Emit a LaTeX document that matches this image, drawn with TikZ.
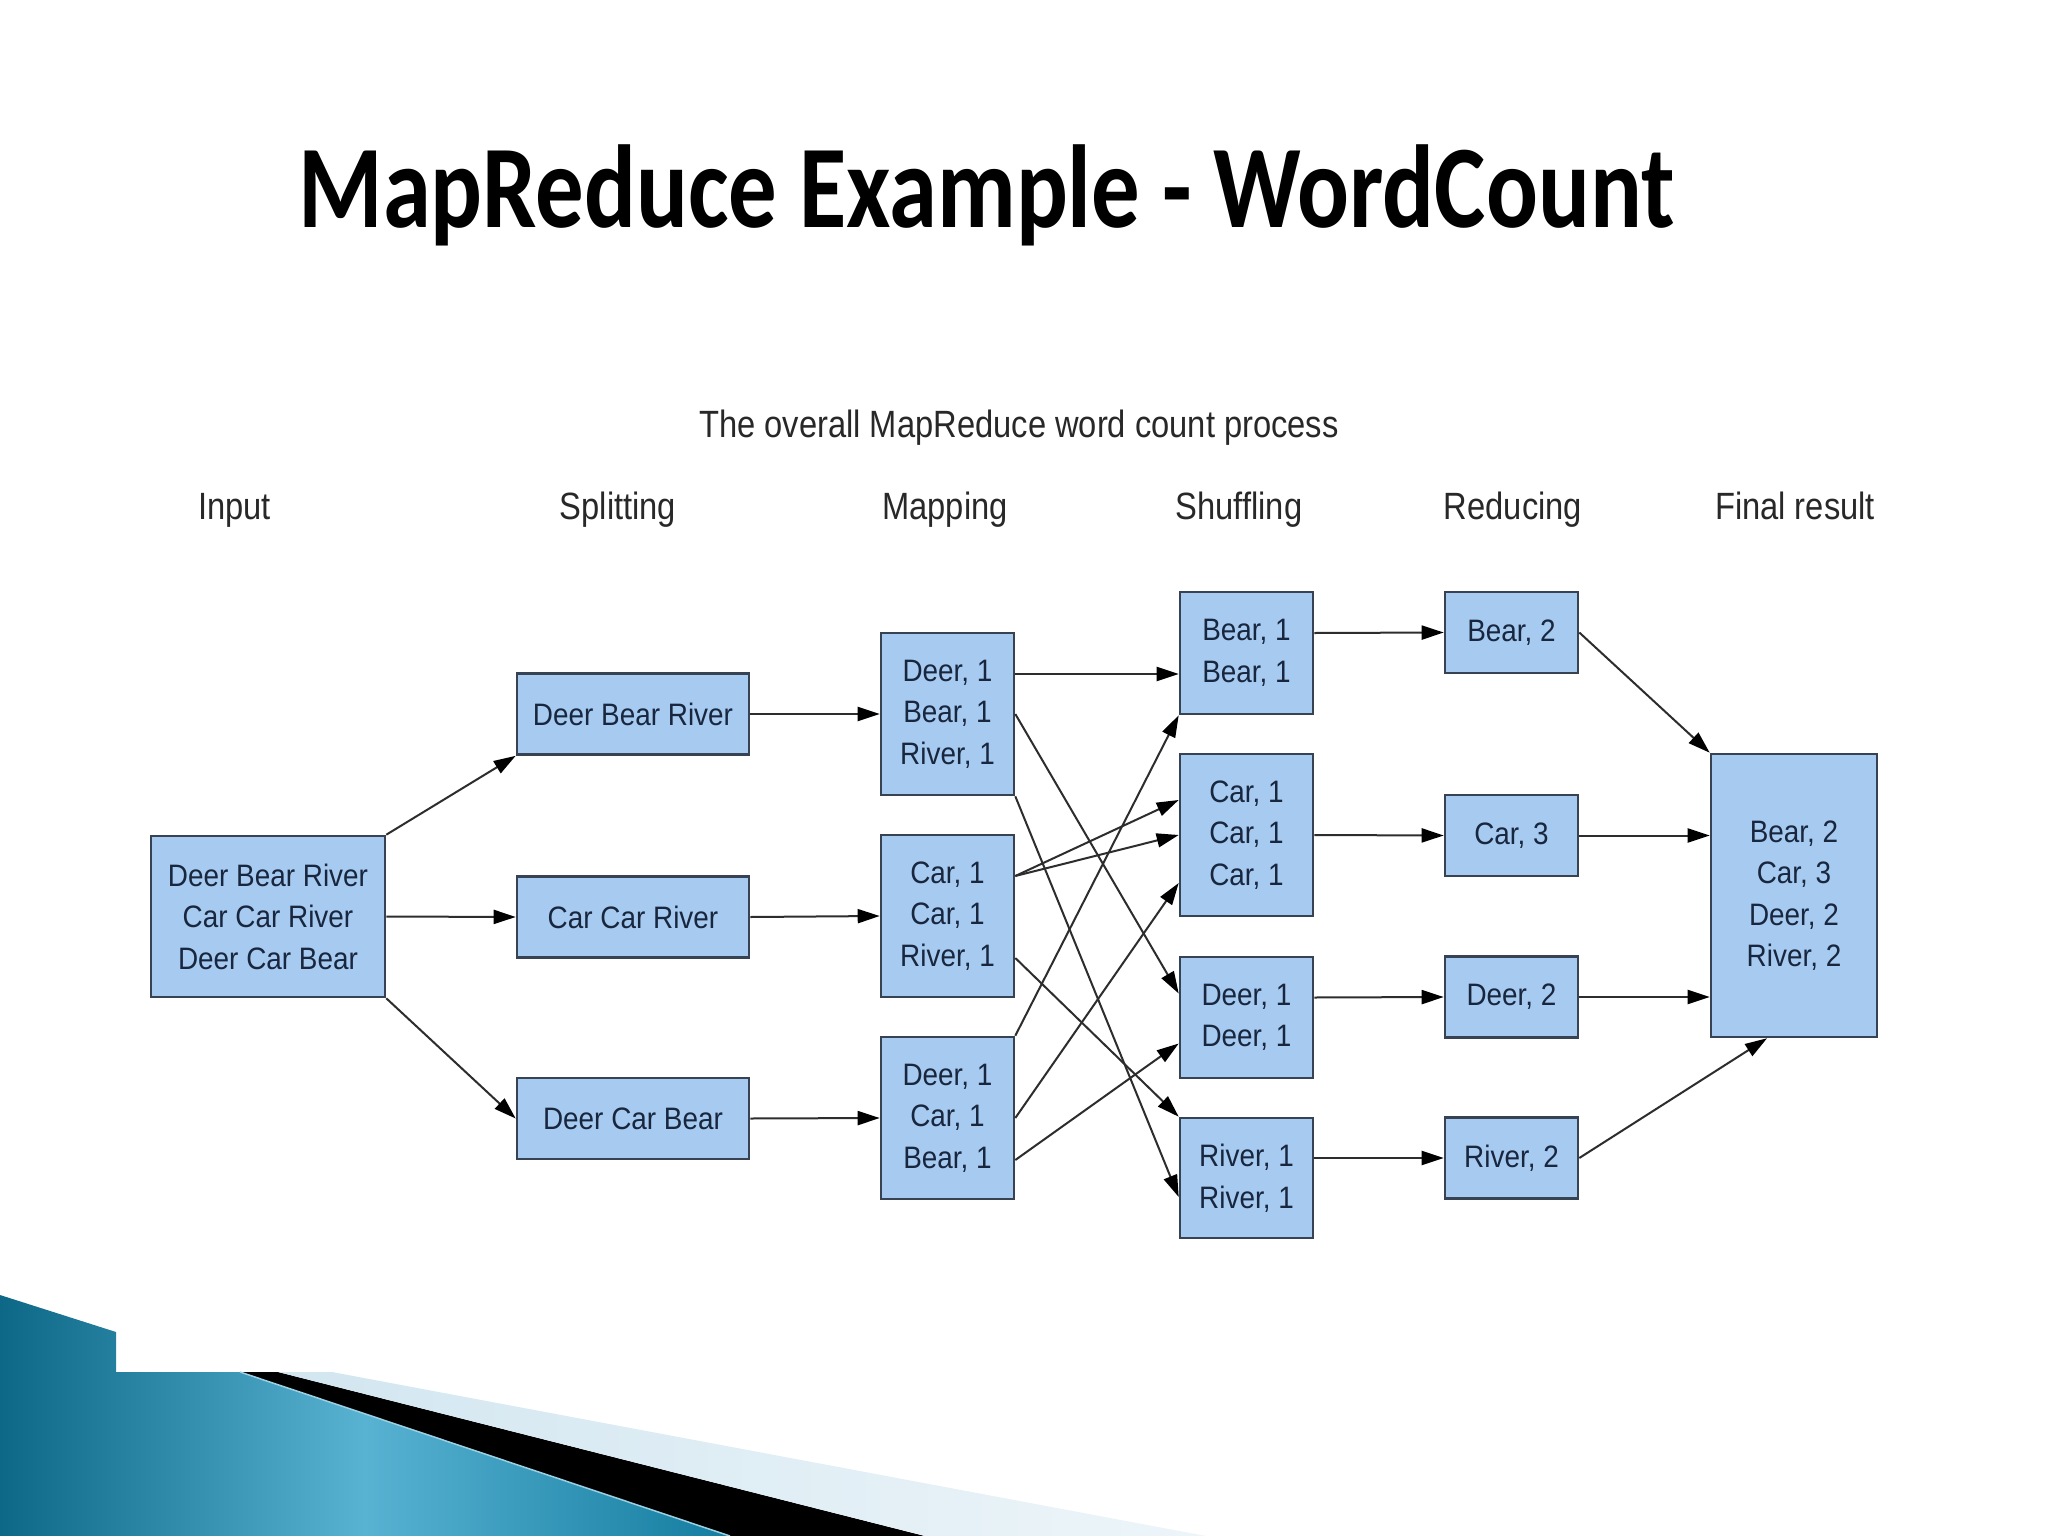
\documentclass[tikz,border=0pt]{standalone}
\usepackage{fontspec}
\usepackage{xcolor}
\usetikzlibrary{arrows.meta}
\setmainfont{Liberation Sans}
\newfontfamily\titlefont{Carlito}[FakeStretch=0.82]
\newfontfamily\headfont{Liberation Sans}[FakeStretch=0.86]
\newfontfamily\boxfont{Liberation Sans}[FakeStretch=0.9]
\definecolor{boxfill}{RGB}{166,202,240}
\definecolor{boxline}{RGB}{55,66,82}
\definecolor{boxtext}{RGB}{24,38,62}
\definecolor{headtext}{RGB}{40,40,40}
\definecolor{arrline}{RGB}{45,45,45}
\definecolor{tealdark}{RGB}{12,104,134}
\definecolor{teallight}{RGB}{88,178,210}
\definecolor{tealmid}{RGB}{20,125,160}
\definecolor{stripe}{RGB}{210,230,240}
\begin{document}
\begin{tikzpicture}[x=1pt,y=-1pt,
  box/.style={draw=boxline,line width=2.6pt,fill=boxfill,text=boxtext,align=center,inner sep=0pt,
    font=\boxfont\fontsize{31}{41.5}\selectfont},
  arr/.style={draw=arrline,line width=2pt,-{Triangle[length=22pt,width=14pt,color=black]}},
  head/.style={text=headtext,anchor=base,font=\headfont\fontsize{38}{44}\selectfont}]
  \useasboundingbox (0,0) rectangle (2048,1536);
  \fill[white] (0,0) rectangle (2048,1536);
  % slide corner
  \shade[left color=tealdark,right color=tealmid,middle color=teallight]
    (0,1295) -- (116,1332) -- (116,1372) -- (240,1372) -- (730,1536) -- (0,1536) -- cycle;
  \fill[black] (240,1372) -- (278,1372) -- (925,1536) -- (730,1536) -- cycle;
  \shade[left color=stripe,right color=stripe!40!white]
    (278,1372) -- (332,1372) -- (1206,1536) -- (925,1536) -- cycle;
  \draw[teallight!60!white,line width=1.5pt] (240,1372) -- (730,1536);
  % titles
  \node[anchor=base,font=\titlefont\bfseries\fontsize{118}{130}\selectfont] (title) at (986.5,227) {MapReduce Example - WordCount};
  \node[head] (sub) at (1019,437) {The overall MapReduce word count process};
  \node[head] (hin) at (234.5,519) {Input};
  \node[head] (hsplit) at (618,519) {Splitting};
  \node[head] (hmap) at (945,519) {Mapping};
  \node[head] (hshuf) at (1239,519) {Shuffling};
  \node[head] (hred) at (1513,519) {Reducing};
  \node[head] (hfin) at (1795,519) {Final result};
  % boxes
  \node[box,minimum width=234pt,minimum height=161pt] (in) at (268,916.5) {Deer Bear River\\Car Car River\\Deer Car Bear};
  \node[box,minimum width=232pt,minimum height=81pt] (s1) at (633,714) {Deer Bear River};
  \node[box,minimum width=232pt,minimum height=81pt] (s2) at (633,917) {Car Car River};
  \node[box,minimum width=232pt,minimum height=81pt] (s3) at (633,1118.5) {Deer Car Bear};
  \node[box,minimum width=133pt,minimum height=162pt] (m1) at (947.5,714) {Deer, 1\\Bear, 1\\River, 1};
  \node[box,minimum width=133pt,minimum height=162pt] (m2) at (947.5,916) {Car, 1\\Car, 1\\River, 1};
  \node[box,minimum width=133pt,minimum height=162pt] (m3) at (947.5,1118) {Deer, 1\\Car, 1\\Bear, 1};
  \node[box,minimum width=133pt,minimum height=122pt] (sh1) at (1246.5,653) {Bear, 1\\Bear, 1};
  \node[box,minimum width=133pt,minimum height=162pt] (sh2) at (1246.5,835) {Car, 1\\Car, 1\\Car, 1};
  \node[box,minimum width=133pt,minimum height=121pt] (sh3) at (1246.5,1017.5) {Deer, 1\\Deer, 1};
  \node[box,minimum width=133pt,minimum height=120pt] (sh4) at (1246.5,1178) {River, 1\\River, 1};
  \node[box,minimum width=133pt,minimum height=81pt] (r1) at (1511.5,632.5) {Bear, 2};
  \node[box,minimum width=133pt,minimum height=81pt] (r2) at (1511.5,835.5) {Car, 3};
  \node[box,minimum width=133pt,minimum height=81pt] (r3) at (1511.5,997) {Deer, 2};
  \node[box,minimum width=133pt,minimum height=81pt] (r4) at (1511.5,1158) {River, 2};
  \node[box,minimum width=166pt,minimum height=283pt] (fin) at (1794,895.5) {Bear, 2\\Car, 3\\Deer, 2\\River, 2};
  % input -> splitting -> mapping
  \draw[arr] (in.north east) -- (s1.south west);
  \draw[arr] (in.east) -- (s2.west);
  \draw[arr] (in.south east) -- (s3.west);
  \foreach \i in {1,2,3}
    \draw[arr] (s\i.east) -- (m\i.west);
  % mapping -> shuffling
  \draw[arr] ([yshift=40pt]m1.east) -- ([yshift=-21pt]sh1.west);
  \draw[arr] (m1.east) -- ([yshift=24pt]sh3.west);
  \draw[arr] (m1.south east) -- ([yshift=-19pt]sh4.west);
  \draw[arr] ([yshift=40pt]m2.east) -- ([yshift=35pt]sh2.west);
  \draw[arr] ([yshift=40pt]m2.east) -- (sh2.west);
  \draw[arr] ([yshift=-42pt]m2.east) -- (sh4.north west);
  \draw[arr] (m3.north east) -- (sh1.south west);
  \draw[arr] (m3.east) -- ([yshift=-48pt]sh2.west);
  \draw[arr] ([yshift=-42pt]m3.east) -- ([yshift=-26pt]sh3.west);
  % shuffling -> reducing
  \draw[arr] ([yshift=20pt]sh1.east) -- (r1.west);
  \draw[arr] (sh2.east) -- (r2.west);
  \draw[arr] ([yshift=20pt]sh3.east) -- (r3.west);
  \draw[arr] ([yshift=20pt]sh4.east) -- (r4.west);
  % reducing -> final result
  \draw[arr] (r1.east) -- (fin.north west);
  \draw[arr] (r2.east) -- (r2.east -| fin.west);
  \draw[arr] (r3.east) -- (r3.east -| fin.west);
  \draw[arr] (r4.east) -- ([xshift=-27pt]fin.south);
\end{tikzpicture}
\end{document}
